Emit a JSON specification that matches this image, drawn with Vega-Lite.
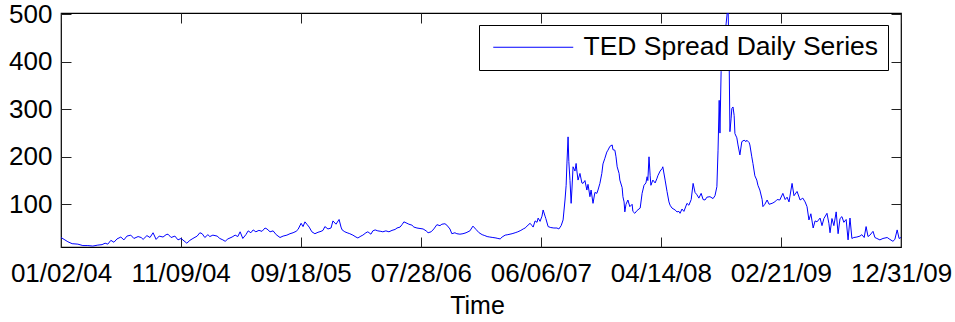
{
  "$schema": "https://vega.github.io/schema/vega-lite/v6.json",
  "width": 840,
  "height": 234,
  "autosize": {"type": "none"},
  "padding": {"left": 61, "top": 13, "right": 54, "bottom": 75},
  "background": "white",
  "config": {
    "view": {"stroke": "black", "strokeWidth": 1.2},
    "font": "Liberation Sans",
    "axis": {
      "grid": false,
      "domain": false,
      "labelFont": "Liberation Sans",
      "labelFontSize": 26,
      "labelColor": "black",
      "titleFont": "Liberation Sans",
      "titleFontSize": 25,
      "titleFontWeight": "normal",
      "titleColor": "black",
      "tickColor": "#222222",
      "tickSize": -10,
      "tickWidth": 1
    }
  },
  "data": {
    "values": [
      {"date": "2004/01/02", "ted": 30}, {"date": "2004/01/10", "ted": 26}, {"date": "2004/01/20", "ted": 21}, {"date": "2004/01/31", "ted": 17},
      {"date": "2004/02/15", "ted": 16}, {"date": "2004/02/28", "ted": 13}, {"date": "2004/03/12", "ted": 13}, {"date": "2004/03/25", "ted": 12},
      {"date": "2004/04/07", "ted": 14}, {"date": "2004/04/18", "ted": 15}, {"date": "2004/04/26", "ted": 18}, {"date": "2004/05/03", "ted": 16},
      {"date": "2004/05/11", "ted": 24}, {"date": "2004/05/19", "ted": 20}, {"date": "2004/05/27", "ted": 27}, {"date": "2004/06/06", "ted": 31},
      {"date": "2004/06/14", "ted": 25}, {"date": "2004/06/22", "ted": 33}, {"date": "2004/07/02", "ted": 35}, {"date": "2004/07/10", "ted": 28},
      {"date": "2004/07/21", "ted": 32}, {"date": "2004/07/29", "ted": 30}, {"date": "2004/08/03", "ted": 26}, {"date": "2004/08/13", "ted": 34},
      {"date": "2004/08/21", "ted": 30}, {"date": "2004/08/29", "ted": 40}, {"date": "2004/09/06", "ted": 26}, {"date": "2004/09/14", "ted": 33},
      {"date": "2004/09/24", "ted": 31}, {"date": "2004/10/02", "ted": 36}, {"date": "2004/10/07", "ted": 37}, {"date": "2004/10/15", "ted": 30},
      {"date": "2004/10/25", "ted": 33}, {"date": "2004/11/02", "ted": 25}, {"date": "2004/11/10", "ted": 28}, {"date": "2004/11/25", "ted": 18},
      {"date": "2004/12/03", "ted": 24}, {"date": "2004/12/11", "ted": 28}, {"date": "2004/12/22", "ted": 33}, {"date": "2004/12/29", "ted": 40},
      {"date": "2005/01/04", "ted": 38}, {"date": "2005/01/11", "ted": 30}, {"date": "2005/01/19", "ted": 36}, {"date": "2005/01/24", "ted": 32},
      {"date": "2005/02/01", "ted": 35}, {"date": "2005/02/12", "ted": 33}, {"date": "2005/02/19", "ted": 28}, {"date": "2005/02/27", "ted": 25},
      {"date": "2005/03/05", "ted": 22}, {"date": "2005/03/12", "ted": 27}, {"date": "2005/03/23", "ted": 31}, {"date": "2005/03/31", "ted": 35},
      {"date": "2005/04/07", "ted": 32}, {"date": "2005/04/13", "ted": 42}, {"date": "2005/04/20", "ted": 28}, {"date": "2005/04/28", "ted": 36},
      {"date": "2005/05/04", "ted": 44}, {"date": "2005/05/11", "ted": 40}, {"date": "2005/05/17", "ted": 46}, {"date": "2005/05/24", "ted": 42},
      {"date": "2005/06/01", "ted": 45}, {"date": "2005/06/09", "ted": 43}, {"date": "2005/06/17", "ted": 50}, {"date": "2005/06/22", "ted": 48},
      {"date": "2005/06/30", "ted": 42}, {"date": "2005/07/08", "ted": 44}, {"date": "2005/07/16", "ted": 36}, {"date": "2005/07/26", "ted": 30},
      {"date": "2005/08/03", "ted": 33}, {"date": "2005/08/13", "ted": 35}, {"date": "2005/08/21", "ted": 38}, {"date": "2005/08/29", "ted": 40},
      {"date": "2005/09/06", "ted": 43}, {"date": "2005/09/11", "ted": 47}, {"date": "2005/09/19", "ted": 60}, {"date": "2005/09/24", "ted": 53},
      {"date": "2005/09/29", "ted": 63}, {"date": "2005/10/04", "ted": 58}, {"date": "2005/10/10", "ted": 52}, {"date": "2005/10/17", "ted": 42},
      {"date": "2005/10/25", "ted": 38}, {"date": "2005/11/02", "ted": 41}, {"date": "2005/11/10", "ted": 43}, {"date": "2005/11/15", "ted": 45},
      {"date": "2005/11/20", "ted": 53}, {"date": "2005/11/28", "ted": 48}, {"date": "2005/12/06", "ted": 50}, {"date": "2005/12/11", "ted": 65},
      {"date": "2005/12/19", "ted": 58}, {"date": "2005/12/27", "ted": 68}, {"date": "2006/01/01", "ted": 52}, {"date": "2006/01/04", "ted": 46},
      {"date": "2006/01/11", "ted": 42}, {"date": "2006/01/17", "ted": 40}, {"date": "2006/01/24", "ted": 38}, {"date": "2006/02/01", "ted": 35},
      {"date": "2006/02/09", "ted": 31}, {"date": "2006/02/14", "ted": 29}, {"date": "2006/02/22", "ted": 33}, {"date": "2006/02/27", "ted": 35},
      {"date": "2006/03/07", "ted": 40}, {"date": "2006/03/12", "ted": 42}, {"date": "2006/03/20", "ted": 37}, {"date": "2006/03/25", "ted": 44},
      {"date": "2006/03/31", "ted": 46}, {"date": "2006/04/07", "ted": 44}, {"date": "2006/04/15", "ted": 43}, {"date": "2006/04/20", "ted": 42},
      {"date": "2006/04/28", "ted": 44}, {"date": "2006/05/06", "ted": 42}, {"date": "2006/05/14", "ted": 45}, {"date": "2006/05/22", "ted": 47},
      {"date": "2006/05/27", "ted": 50}, {"date": "2006/06/04", "ted": 52}, {"date": "2006/06/09", "ted": 57}, {"date": "2006/06/14", "ted": 63},
      {"date": "2006/06/22", "ted": 60}, {"date": "2006/06/27", "ted": 58}, {"date": "2006/07/05", "ted": 56}, {"date": "2006/07/10", "ted": 52},
      {"date": "2006/07/18", "ted": 50}, {"date": "2006/07/26", "ted": 49}, {"date": "2006/08/03", "ted": 48}, {"date": "2006/08/11", "ted": 44},
      {"date": "2006/08/16", "ted": 40}, {"date": "2006/08/24", "ted": 42}, {"date": "2006/08/31", "ted": 48}, {"date": "2006/09/08", "ted": 57},
      {"date": "2006/09/16", "ted": 55}, {"date": "2006/09/21", "ted": 58}, {"date": "2006/09/29", "ted": 59}, {"date": "2006/10/04", "ted": 56},
      {"date": "2006/10/12", "ted": 48}, {"date": "2006/10/17", "ted": 38}, {"date": "2006/10/25", "ted": 40}, {"date": "2006/10/30", "ted": 38},
      {"date": "2006/11/07", "ted": 37}, {"date": "2006/11/15", "ted": 38}, {"date": "2006/11/23", "ted": 40}, {"date": "2006/12/03", "ted": 44},
      {"date": "2006/12/11", "ted": 54}, {"date": "2006/12/19", "ted": 47}, {"date": "2006/12/27", "ted": 40}, {"date": "2007/01/04", "ted": 36},
      {"date": "2007/01/11", "ted": 34}, {"date": "2007/01/17", "ted": 32}, {"date": "2007/01/24", "ted": 31}, {"date": "2007/02/01", "ted": 30},
      {"date": "2007/02/09", "ted": 29}, {"date": "2007/02/14", "ted": 28}, {"date": "2007/02/20", "ted": 27}, {"date": "2007/02/25", "ted": 31},
      {"date": "2007/03/05", "ted": 35}, {"date": "2007/03/12", "ted": 36}, {"date": "2007/03/23", "ted": 38}, {"date": "2007/03/31", "ted": 40},
      {"date": "2007/04/07", "ted": 42}, {"date": "2007/04/15", "ted": 45}, {"date": "2007/04/21", "ted": 48}, {"date": "2007/04/26", "ted": 50},
      {"date": "2007/05/01", "ted": 54}, {"date": "2007/05/09", "ted": 60}, {"date": "2007/05/14", "ted": 55}, {"date": "2007/05/17", "ted": 52},
      {"date": "2007/05/22", "ted": 65}, {"date": "2007/05/27", "ted": 62}, {"date": "2007/05/30", "ted": 71}, {"date": "2007/06/04", "ted": 64},
      {"date": "2007/06/09", "ted": 75}, {"date": "2007/06/12", "ted": 88}, {"date": "2007/06/17", "ted": 75}, {"date": "2007/06/19", "ted": 70},
      {"date": "2007/06/25", "ted": 53}, {"date": "2007/07/02", "ted": 51}, {"date": "2007/07/10", "ted": 50}, {"date": "2007/07/18", "ted": 50},
      {"date": "2007/07/23", "ted": 48}, {"date": "2007/07/29", "ted": 55}, {"date": "2007/08/03", "ted": 67}, {"date": "2007/08/08", "ted": 109},
      {"date": "2007/08/11", "ted": 140}, {"date": "2007/08/13", "ted": 185}, {"date": "2007/08/16", "ted": 242}, {"date": "2007/08/18", "ted": 190},
      {"date": "2007/08/21", "ted": 150}, {"date": "2007/08/24", "ted": 102}, {"date": "2007/08/26", "ted": 130}, {"date": "2007/08/29", "ted": 179},
      {"date": "2007/09/03", "ted": 170}, {"date": "2007/09/06", "ted": 186}, {"date": "2007/09/08", "ted": 170}, {"date": "2007/09/11", "ted": 151},
      {"date": "2007/09/16", "ted": 165}, {"date": "2007/09/21", "ted": 145}, {"date": "2007/09/24", "ted": 144}, {"date": "2007/09/29", "ted": 150},
      {"date": "2007/10/04", "ted": 130}, {"date": "2007/10/07", "ted": 142}, {"date": "2007/10/12", "ted": 116}, {"date": "2007/10/15", "ted": 130},
      {"date": "2007/10/20", "ted": 102}, {"date": "2007/10/25", "ted": 125}, {"date": "2007/10/30", "ted": 123}, {"date": "2007/11/02", "ted": 130},
      {"date": "2007/11/07", "ted": 144}, {"date": "2007/11/12", "ted": 165}, {"date": "2007/11/15", "ted": 185}, {"date": "2007/11/20", "ted": 197},
      {"date": "2007/11/25", "ted": 210}, {"date": "2007/11/28", "ted": 214}, {"date": "2007/12/03", "ted": 222}, {"date": "2007/12/09", "ted": 225},
      {"date": "2007/12/11", "ted": 215}, {"date": "2007/12/16", "ted": 214}, {"date": "2007/12/19", "ted": 200}, {"date": "2007/12/22", "ted": 179},
      {"date": "2007/12/27", "ted": 165}, {"date": "2007/12/29", "ted": 151}, {"date": "2008/01/04", "ted": 135}, {"date": "2008/01/06", "ted": 116},
      {"date": "2008/01/09", "ted": 105}, {"date": "2008/01/11", "ted": 84}, {"date": "2008/01/14", "ted": 100}, {"date": "2008/01/19", "ted": 109},
      {"date": "2008/01/24", "ted": 95}, {"date": "2008/01/30", "ted": 100}, {"date": "2008/02/01", "ted": 85}, {"date": "2008/02/06", "ted": 81},
      {"date": "2008/02/12", "ted": 87}, {"date": "2008/02/20", "ted": 92}, {"date": "2008/02/25", "ted": 123}, {"date": "2008/03/01", "ted": 140},
      {"date": "2008/03/06", "ted": 145}, {"date": "2008/03/09", "ted": 158}, {"date": "2008/03/11", "ted": 150}, {"date": "2008/03/14", "ted": 200},
      {"date": "2008/03/17", "ted": 160}, {"date": "2008/03/19", "ted": 140}, {"date": "2008/03/24", "ted": 151}, {"date": "2008/03/30", "ted": 145},
      {"date": "2008/04/04", "ted": 155}, {"date": "2008/04/06", "ted": 160}, {"date": "2008/04/12", "ted": 170}, {"date": "2008/04/17", "ted": 175},
      {"date": "2008/04/19", "ted": 179}, {"date": "2008/04/25", "ted": 151}, {"date": "2008/04/30", "ted": 127}, {"date": "2008/05/05", "ted": 105},
      {"date": "2008/05/08", "ted": 98}, {"date": "2008/05/13", "ted": 92}, {"date": "2008/05/21", "ted": 88}, {"date": "2008/05/26", "ted": 84},
      {"date": "2008/05/31", "ted": 85}, {"date": "2008/06/03", "ted": 81}, {"date": "2008/06/08", "ted": 90}, {"date": "2008/06/13", "ted": 85},
      {"date": "2008/06/21", "ted": 102}, {"date": "2008/06/26", "ted": 98}, {"date": "2008/07/02", "ted": 110}, {"date": "2008/07/07", "ted": 144},
      {"date": "2008/07/12", "ted": 125}, {"date": "2008/07/17", "ted": 120}, {"date": "2008/07/22", "ted": 113}, {"date": "2008/07/28", "ted": 123},
      {"date": "2008/08/02", "ted": 110}, {"date": "2008/08/07", "ted": 109}, {"date": "2008/08/12", "ted": 115}, {"date": "2008/08/20", "ted": 116},
      {"date": "2008/08/28", "ted": 112}, {"date": "2008/09/02", "ted": 118}, {"date": "2008/09/07", "ted": 137}, {"date": "2008/09/10", "ted": 214},
      {"date": "2008/09/13", "ted": 319}, {"date": "2008/09/15", "ted": 250}, {"date": "2008/09/18", "ted": 380}, {"date": "2008/09/20", "ted": 420},
      {"date": "2008/09/26", "ted": 450}, {"date": "2008/10/01", "ted": 480}, {"date": "2008/10/06", "ted": 520}, {"date": "2008/10/09", "ted": 400},
      {"date": "2008/10/11", "ted": 253}, {"date": "2008/10/14", "ted": 280}, {"date": "2008/10/16", "ted": 302}, {"date": "2008/10/19", "ted": 305},
      {"date": "2008/10/22", "ted": 287}, {"date": "2008/10/24", "ted": 249}, {"date": "2008/10/29", "ted": 240}, {"date": "2008/11/01", "ted": 225},
      {"date": "2008/11/06", "ted": 204}, {"date": "2008/11/11", "ted": 232}, {"date": "2008/11/17", "ted": 235}, {"date": "2008/11/22", "ted": 232},
      {"date": "2008/11/24", "ted": 235}, {"date": "2008/11/30", "ted": 230}, {"date": "2008/12/02", "ted": 225}, {"date": "2008/12/07", "ted": 200},
      {"date": "2008/12/10", "ted": 186}, {"date": "2008/12/15", "ted": 160}, {"date": "2008/12/20", "ted": 151}, {"date": "2008/12/23", "ted": 140},
      {"date": "2008/12/28", "ted": 130}, {"date": "2009/01/03", "ted": 110}, {"date": "2009/01/05", "ted": 95}, {"date": "2009/01/10", "ted": 100},
      {"date": "2009/01/16", "ted": 109}, {"date": "2009/01/21", "ted": 100}, {"date": "2009/01/29", "ted": 102}, {"date": "2009/02/05", "ted": 105},
      {"date": "2009/02/11", "ted": 110}, {"date": "2009/02/18", "ted": 109}, {"date": "2009/02/26", "ted": 123}, {"date": "2009/03/04", "ted": 110},
      {"date": "2009/03/09", "ted": 115}, {"date": "2009/03/14", "ted": 105}, {"date": "2009/03/22", "ted": 144}, {"date": "2009/03/27", "ted": 118},
      {"date": "2009/04/04", "ted": 127}, {"date": "2009/04/12", "ted": 109}, {"date": "2009/04/19", "ted": 113}, {"date": "2009/04/25", "ted": 105},
      {"date": "2009/04/30", "ted": 95}, {"date": "2009/05/05", "ted": 67}, {"date": "2009/05/10", "ted": 80}, {"date": "2009/05/16", "ted": 50},
      {"date": "2009/05/21", "ted": 65}, {"date": "2009/05/26", "ted": 63}, {"date": "2009/06/03", "ted": 71}, {"date": "2009/06/08", "ted": 55},
      {"date": "2009/06/13", "ted": 70}, {"date": "2009/06/21", "ted": 81}, {"date": "2009/06/26", "ted": 60}, {"date": "2009/06/29", "ted": 40},
      {"date": "2009/07/04", "ted": 70}, {"date": "2009/07/09", "ted": 55}, {"date": "2009/07/15", "ted": 84}, {"date": "2009/07/20", "ted": 38},
      {"date": "2009/07/25", "ted": 70}, {"date": "2009/07/30", "ted": 74}, {"date": "2009/08/04", "ted": 62}, {"date": "2009/08/10", "ted": 68},
      {"date": "2009/08/15", "ted": 25}, {"date": "2009/08/20", "ted": 71}, {"date": "2009/08/25", "ted": 28}, {"date": "2009/08/30", "ted": 30},
      {"date": "2009/09/07", "ted": 31}, {"date": "2009/09/15", "ted": 33}, {"date": "2009/09/20", "ted": 36}, {"date": "2009/09/26", "ted": 30},
      {"date": "2009/10/01", "ted": 53}, {"date": "2009/10/06", "ted": 32}, {"date": "2009/10/11", "ted": 35}, {"date": "2009/10/19", "ted": 43},
      {"date": "2009/10/24", "ted": 30}, {"date": "2009/10/29", "ted": 28}, {"date": "2009/11/06", "ted": 25}, {"date": "2009/11/14", "ted": 28},
      {"date": "2009/11/25", "ted": 30}, {"date": "2009/12/02", "ted": 26}, {"date": "2009/12/10", "ted": 22}, {"date": "2009/12/15", "ted": 26},
      {"date": "2009/12/21", "ted": 46}, {"date": "2009/12/26", "ted": 28}, {"date": "2009/12/31", "ted": 30}
    ]
  },
  "layer": [
    {
      "mark": {"type": "line", "strokeWidth": 1, "clip": true},
      "encoding": {
        "x": {
          "field": "date", "type": "temporal",
          "scale": {"domain": [{"year": 2004, "month": 1, "date": 2}, {"year": 2009, "month": 12, "date": 31}]},
          "axis": {
            "orient": "bottom",
            "values": [
              {"year": 2004, "month": 1, "date": 2}, {"year": 2004, "month": 11, "date": 9},
              {"year": 2005, "month": 9, "date": 18}, {"year": 2006, "month": 7, "date": 28},
              {"year": 2007, "month": 6, "date": 6}, {"year": 2008, "month": 4, "date": 14},
              {"year": 2009, "month": 2, "date": 21}, {"year": 2009, "month": 12, "date": 31}
            ],
            "format": "%m/%d/%y",
            "labelOverlap": false,
            "labelFlush": false,
            "labelPadding": 23,
            "title": "Time",
            "titleBaseline": "alphabetic",
            "titleY": 66,
            "titleX": 416
          }
        },
        "y": {
          "field": "ted", "type": "quantitative",
          "scale": {"domain": [10, 503], "nice": false, "zero": false},
          "axis": {"orient": "left", "values": [100, 200, 300, 400, 500], "labelPadding": 19, "title": null}
        },
        "color": {
          "datum": "TED Spread Daily Series", "type": "nominal",
          "scale": {"range": ["#0000ff"]},
          "legend": {
            "title": null,
            "orient": "none",
            "legendX": 418,
            "legendY": 12,
            "strokeColor": "black",
            "fillColor": "white",
            "padding": 9,
            "symbolType": "M-4,0L4,0",
            "symbolSize": 400,
            "symbolStrokeWidth": 1,
            "symbolOffset": 32,
            "labelOffset": 37,
            "labelFont": "Liberation Sans",
            "labelFontSize": 26.5,
            "labelColor": "black",
            "labelLimit": 0
          }
        }
      }
    },
    {
      "mark": {"type": "line", "strokeOpacity": 0, "clip": true},
      "encoding": {
        "x": {
          "field": "date", "type": "temporal",
          "axis": {
            "orient": "top",
            "values": [
              {"year": 2004, "month": 1, "date": 2}, {"year": 2004, "month": 11, "date": 9},
              {"year": 2005, "month": 9, "date": 18}, {"year": 2006, "month": 7, "date": 28},
              {"year": 2007, "month": 6, "date": 6}, {"year": 2008, "month": 4, "date": 14},
              {"year": 2009, "month": 2, "date": 21}, {"year": 2009, "month": 12, "date": 31}
            ],
            "labels": false,
            "title": null
          }
        },
        "y": {
          "field": "ted", "type": "quantitative",
          "axis": {"orient": "right", "values": [100, 200, 300, 400, 500], "labels": false, "title": null}
        }
      }
    }
  ],
  "resolve": {"axis": {"x": "independent", "y": "independent"}}
}
